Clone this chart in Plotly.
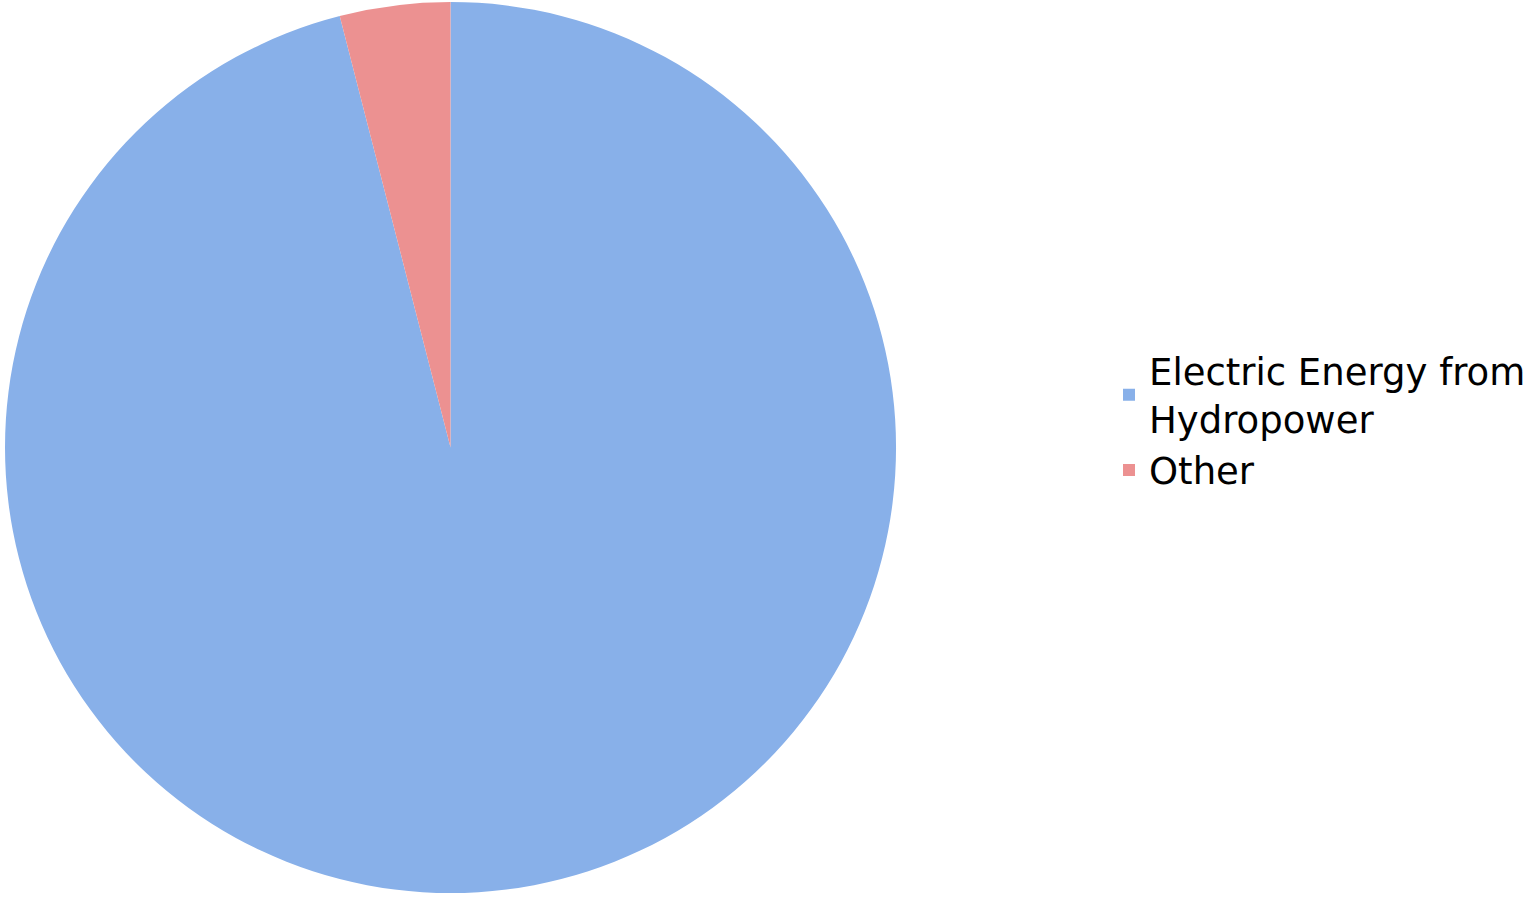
import plotly.graph_objects as go

labels = ["Electric Energy from<br>Hydropower", "Other"]
values = [96, 4]
colors = ["#88B0E9", "#EC9191"]

fig = go.Figure(go.Pie(
    labels=labels,
    values=values,
    sort=False,
    direction="clockwise",
    rotation=0,
    textinfo="none",
    marker=dict(colors=colors, line=dict(width=0)),
    domain=dict(x=[0.0, 0.5866], y=[0, 1]),
))

fig.update_layout(
    width=1531, height=900,
    margin=dict(l=5, r=0, t=1, b=6),
    paper_bgcolor="white",
    plot_bgcolor="white",
    font=dict(family="DejaVu Sans", size=37, color="black"),
    legend=dict(
        x=0.727, y=0.53, xanchor="left", yanchor="middle",
        font=dict(size=37, color="black"),
    ),
)

fig.write_html("out.html")
